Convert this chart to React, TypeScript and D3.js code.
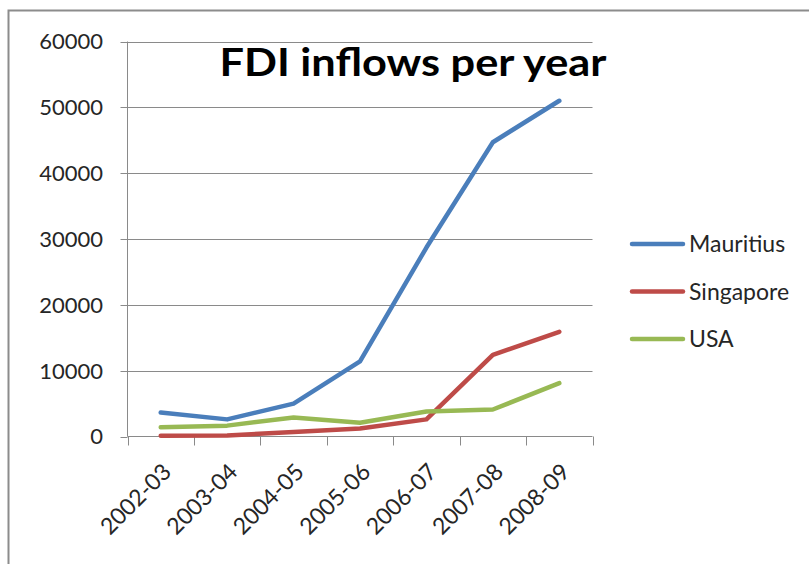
import React from "react";
import * as d3 from "d3";

const categories = ["2002-03", "2003-04", "2004-05", "2005-06", "2006-07", "2007-08", "2008-09"];
const mauritius = [3650, 2600, 5000, 11400, 28700, 44700, 51000];
const singapore = [100, 150, 700, 1200, 2600, 12400, 15900];
const usa = [1400, 1650, 2900, 2100, 3800, 4100, 8100];
const yTicks = [0, 10000, 20000, 30000, 40000, 50000, 60000];
const seriesNames = ["Mauritius", "Singapore", "USA"];
const seriesColors = ["#4A7EBB", "#BE4B48", "#98B954"];

export default function App() {
  const W = 809, H = 564;
  const left = 127.5, right = 592.5, top = 41.5, bottom = 436.5;
  const x = d3.scaleBand<string>().domain(categories).range([left, right]);
  const y = d3.scaleLinear().domain([0, 60000]).range([bottom, top]);
  const line = d3.line<number>()
    .x((_, i) => (x(categories[i]) as number) + x.bandwidth() / 2)
    .y((v) => y(v));
  const series = [mauritius, singapore, usa];
  const font = "Lato, 'Open Sans', sans-serif";
  const boundaries = categories.map((c) => x(c) as number).concat([right]);
  return (
    <svg width={W} height={H} style={{ position: "absolute", left: 0, top: 0, background: "#fff" }}>
      <rect x={0} y={0} width={W} height={H} fill="#fff" />
      <rect x={8.5} y={10.5} width={840} height={620} fill="none" stroke="#8c8c8c" strokeWidth={2} />
      {yTicks.map((t) => (
        <g key={t}>
          {t > 0 && <line x1={left} x2={right} y1={Math.round(y(t)) + 0.5} y2={Math.round(y(t)) + 0.5} stroke="#8a8a8a" strokeWidth={1} />}
          <line x1={left - 7} x2={left} y1={Math.round(y(t)) + 0.5} y2={Math.round(y(t)) + 0.5} stroke="#8a8a8a" strokeWidth={1} />
          <text x={103} y={y(t)} dy="0.36em" textAnchor="end" fontFamily={font} fontSize={22} fill="#262626">{t}</text>
        </g>
      ))}
      <line x1={left} x2={left} y1={top} y2={bottom} stroke="#8a8a8a" strokeWidth={1} />
      <line x1={left} x2={right} y1={bottom} y2={bottom} stroke="#8a8a8a" strokeWidth={1} />
      {boundaries.map((b, i) => (
        <line key={i} x1={Math.round(b) + 0.5} x2={Math.round(b) + 0.5} y1={bottom} y2={bottom + 9} stroke="#8a8a8a" strokeWidth={1} />
      ))}
      {categories.map((c) => {
        const cx = (x(c) as number) + x.bandwidth() / 2 + 6;
        const cy = bottom + 31;
        return (
          <text key={c} transform={`translate(${cx},${cy}) rotate(-45)`} textAnchor="end" dy="0.36em" fontFamily={font} fontSize={23} fill="#262626">{c}</text>
        );
      })}
      {series.map((s, i) => (
        <path key={i} d={line(s) as string} fill="none" stroke={seriesColors[i]} strokeWidth={4.5} strokeLinejoin="round" strokeLinecap="round" />
      ))}
      <text x={413} y={76} textAnchor="middle" fontFamily={font} fontWeight="bold" fontSize={39} textLength={387} lengthAdjust="spacingAndGlyphs" fill="#000">FDI inflows per year</text>
      {seriesNames.map((n, i) => {
        const ly = 244 + i * 47.5;
        return (
          <g key={n}>
            <line x1={632} x2={683} y1={ly} y2={ly} stroke={seriesColors[i]} strokeWidth={4.5} strokeLinecap="round" />
            <text x={689} y={ly} dy="0.36em" fontFamily={font} fontSize={23} fill="#262626">{n}</text>
          </g>
        );
      })}
    </svg>
  );
}
